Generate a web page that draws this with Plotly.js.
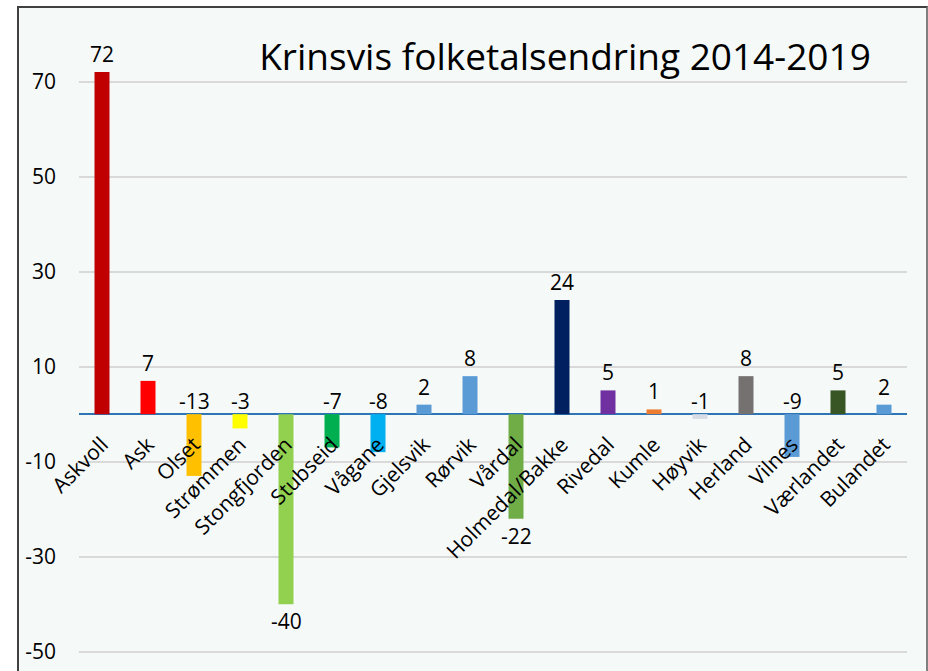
<!DOCTYPE html>
<html>
<head>
<meta charset="utf-8">
<script src="https://cdn.plot.ly/plotly-3.0.1.min.js"></script>
<style>
  html, body { margin: 0; padding: 0; background: #ffffff; }
  #frame { position: absolute; left: 17px; top: 6px; width: 907px; height: 680px;
           background: #F5FAF9; border-left: 2px solid #404040; border-top: 2px solid #404040;
           border-right: 2px solid #808080; }
  #chart { position: absolute; left: 0; top: 0; width: 928px; height: 671px; }
</style>
</head>
<body>
<div id="frame"></div>
<div id="chart"></div>
<script>
const categories = ['Askvoll', 'Ask', 'Olset', 'Strømmen', 'Stongfjorden', 'Stubseid', 'Vågane',
  'Gjelsvik', 'Rørvik', 'Vårdal', 'Holmedal/Bakke', 'Rivedal', 'Kumle', 'Høyvik', 'Herland',
  'Vilnes', 'Værlandet', 'Bulandet'];
const values = [72, 7, -13, -3, -40, -7, -8, 2, 8, -22, 24, 5, 1, -1, 8, -9, 5, 2];
const colors = ['#C00000', '#FF0000', '#FFC000', '#FFFF00', '#92D050', '#00B050', '#00B0F0',
  '#5B9BD5', '#5B9BD5', '#70AD47', '#002060', '#7030A0', '#ED7D31', '#D6DCE5', '#767171',
  '#5B9BD5', '#375623', '#5B9BD5'];
const tickValues = [70, 50, 30, 10, -10, -30, -50];
const labelsBelowBar = ['Stongfjorden', 'Vårdal'];

const yRange = [-53, 80];
const FONT = 'Open Sans, Noto Sans, sans-serif';
const FS = 21;
const H = 671, MT = 34, MB = 5;
const plotH = H - MT - MB;
const catLabelDrop = 13; // px below the zero line

const annotations = categories.map((c, i) => {
  const v = values[i];
  const below = labelsBelowBar.includes(c);
  const font = {family: FONT, size: FS, color: '#000'};
  if (v >= 0) {
    return {x: c, y: v, text: String(v), showarrow: false, yanchor: 'bottom', yshift: 2, font};
  } else if (below) {
    return {x: c, y: v, text: String(v), showarrow: false, yanchor: 'top', yshift: -1, font};
  } else {
    return {x: c, y: 0, text: String(v), showarrow: false, yanchor: 'bottom', yshift: -3, font};
  }
});

const trace = {
  type: 'bar', x: categories, y: values,
  marker: {color: colors},
  hoverinfo: 'x+y'
};

const layout = {
  width: 928, height: H,
  margin: {l: 79, r: 21, t: MT, b: MB, pad: 0},
  paper_bgcolor: 'rgba(0,0,0,0)', plot_bgcolor: 'rgba(0,0,0,0)',
  showlegend: false,
  bargap: 0.674,
  title: {text: 'Krinsvis folketalsendring 2014-2019', x: 565 / 928, xanchor: 'center',
    y: 1 - 57 / 671, yanchor: 'middle', font: {family: FONT, size: 37, color: '#000'}},
  xaxis: {
    type: 'category', anchor: 'free',
    position: (0 - yRange[0]) / (yRange[1] - yRange[0]) - catLabelDrop / plotH,
    showgrid: false, showline: false, zeroline: false, ticks: '',
    tickangle: -45,
    tickfont: {family: FONT, size: FS, color: '#000'}
  },
  yaxis: {
    range: yRange, tickvals: tickValues, ticktext: tickValues.map(v => String(v)),
    showgrid: true, gridcolor: '#D9D9D9', gridwidth: 2,
    zeroline: true, zerolinecolor: '#2E75B6', zerolinewidth: 2,
    showline: false, ticks: '', ticklabelstandoff: 22,
    tickfont: {family: FONT, size: FS, color: '#000'}
  },
  annotations: annotations
};

Plotly.newPlot('chart', [trace], layout, {displayModeBar: false, staticPlot: true});
</script>
</body>
</html>
